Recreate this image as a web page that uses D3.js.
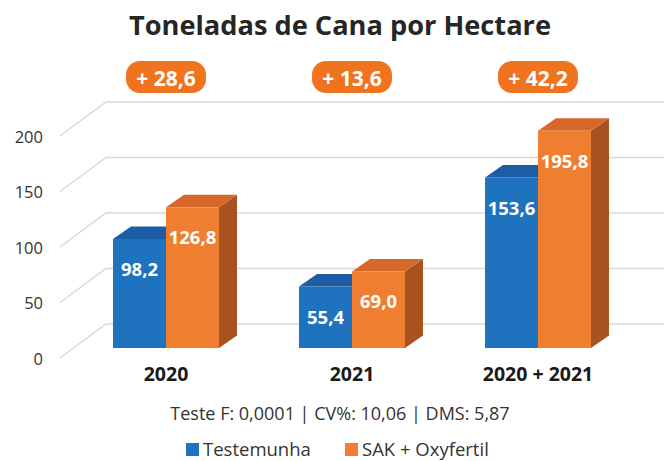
<!DOCTYPE html>
<html><head><meta charset="utf-8">
<script src="https://cdn.jsdelivr.net/npm/d3@7"></script>
<style>body{margin:0;background:#fff}svg{display:block}text{font-family:"Open Sans",sans-serif}</style>
</head><body>
<svg id="c" width="664" height="461"></svg>
<script>
const categories = ["2020", "2021", "2020 + 2021"];
const seriesNames = ["Testemunha", "SAK + Oxyfertil"];
const testemunha = [98.2, 55.4, 153.6];
const sakOxyfertil = [126.8, 69.0, 195.8];
const gains = ["+ 28,6", "+ 13,6", "+ 42,2"];
const yTicks = [0, 50, 100, 150, 200];
const title = "Toneladas de Cana por Hectare";
const footnote = "Teste F: 0,0001 | CV%: 10,06 | DMS: 5,87";

const svg = d3.select("#c");
const fmt = v => d3.format(".1f")(v).replace(".", ",");

// oblique projection
const depthDX = 46, depthDY = -34;
const y = d3.scaleLinear().domain([0, 200]).range([358, 136]);
const x = d3.scaleBand().domain(categories).range([73, 631]);
const xs = d3.scaleBand().domain(seriesNames).range([-53, 53]);

const colors = {
  "Testemunha": {front: "#1f72bd", top: "#1c5da5", side: "#17518f"},
  "SAK + Oxyfertil": {front: "#f07e31", top: "#d8672a", side: "#a8521f"}
};

// gridlines (left wall + back wall)
const floorLeft = 60;
yTicks.forEach(t => {
  const y0 = y(t);
  svg.append("path")
    .attr("d", `M${floorLeft},${y0} L${floorLeft + depthDX},${y0 + depthDY} L664,${y0 + depthDY}`)
    .attr("fill", "none").attr("stroke", "#d9d9d9").attr("stroke-width", 1.5);
  svg.append("text").attr("x", 43).attr("y", y0 + 6.5).attr("text-anchor", "end")
    .attr("font-size", 16.5).attr("fill", "#333").text(t);
});

// bars
const barFrontDY = -10;         // front plane of bars
const bDX = 18, bDY = -12.5;    // bar depth
const series = [
  {name: "Testemunha", values: testemunha},
  {name: "SAK + Oxyfertil", values: sakOxyfertil}
];
categories.forEach((c, i) => {
  const cx = x(c) + x.bandwidth() / 2;
  series.forEach(s => {
    const v = s.values[i];
    const x0 = cx + xs(s.name);
    const x1 = x0 + xs.bandwidth();
    const yb = y(0) + barFrontDY;
    const yt = y(v) + barFrontDY;
    const col = colors[s.name];
    svg.append("path").attr("d", `M${x1},${yb} L${x1 + bDX},${yb + bDY} L${x1 + bDX},${yt + bDY} L${x1},${yt} Z`)
      .attr("fill", col.side);
    svg.append("path").attr("d", `M${x0},${yt} L${x0 + bDX},${yt + bDY} L${x1 + bDX},${yt + bDY} L${x1},${yt} Z`)
      .attr("fill", col.top);
    svg.append("rect").attr("x", x0).attr("y", yt).attr("width", x1 - x0).attr("height", yb - yt)
      .attr("fill", col.front);
    svg.append("text").attr("x", (x0 + x1) / 2).attr("y", yt + 37)
      .attr("text-anchor", "middle").attr("font-size", 18.5).attr("font-weight", 700)
      .attr("fill", "#fff").text(fmt(v));
  });
  // category label
  svg.append("text").attr("x", cx).attr("y", 381).attr("text-anchor", "middle")
    .attr("font-size", 19.5).attr("font-weight", 700).attr("fill", "#1a1a1a").text(c);
  // gain badge
  svg.append("rect").attr("x", cx - 40).attr("y", 61).attr("width", 80).attr("height", 32)
    .attr("rx", 14).attr("fill", "#f0731f");
  svg.append("text").attr("x", cx).attr("y", 85.5).attr("text-anchor", "middle")
    .attr("font-size", 21).attr("font-weight", 700).attr("fill", "#fff").text(gains[i]);
});

// title
svg.append("text").attr("x", 129).attr("y", 35)
  .attr("font-size", 27).attr("font-weight", 700).attr("fill", "#262626")
  .attr("textLength", 422).attr("lengthAdjust", "spacingAndGlyphs").text(title);

// footnote
svg.append("text").attr("x", 340).attr("y", 420).attr("text-anchor", "middle")
  .attr("font-size", 18).attr("fill", "#333").text(footnote);

// legend
const legX = [186, 345];
series.forEach((s, i) => {
  svg.append("rect").attr("x", legX[i]).attr("y", 443).attr("width", 13).attr("height", 13)
    .attr("fill", colors[s.name].front);
  svg.append("text").attr("x", legX[i] + 17).attr("y", 456).attr("font-size", 18.5)
    .attr("fill", "#333").text(s.name);
});
</script>
</body></html>
